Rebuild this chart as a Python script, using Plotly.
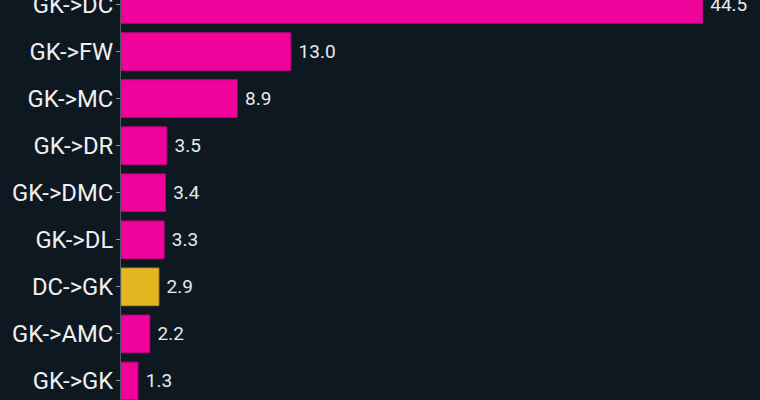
import plotly.graph_objects as go

# pass types and their values (top to bottom)
categories = ["GK->DC", "GK->FW", "GK->MC", "GK->DR", "GK->DMC",
              "GK->DL", "DC->GK", "GK->AMC", "GK->GK"]
values = [44.5, 13.0, 8.9, 3.5, 3.4, 3.3, 2.9, 2.2, 1.3]

pink = "#f0039a"
gold = "#e4b621"
colors = [gold if c == "DC->GK" else pink for c in categories]
edges = ["#b8901a" if c == "DC->GK" else "#c0027c" for c in categories]

fig = go.Figure()
fig.add_trace(go.Bar(
    x=values,
    y=categories,
    orientation="h",
    marker=dict(color=colors, line=dict(color=edges, width=1)),
    texttemplate="\u00a0%{x:.1f}",
    textposition="outside",
    textfont=dict(color="#e8e8e8", size=19, family="Roboto"),
    cliponaxis=False,
    hoverinfo="skip",
))

fig.update_layout(
    width=760,
    height=400,
    margin=dict(l=121, r=0, t=0, b=0),
    paper_bgcolor="#0e1821",
    plot_bgcolor="#0e1821",
    bargap=0.2,
    showlegend=False,
    font=dict(family="Roboto", color="#f0f0f0"),
)
fig.update_xaxes(range=[0, 48.9], visible=False, automargin=False)
fig.update_yaxes(
    range=[8.404, -0.0956],
    automargin=False,
    showline=True,
    linecolor="#4f5b66",
    linewidth=1,
    ticks="outside",
    ticklen=4,
    tickcolor="#8a939b",
    ticklabelstandoff=-2,
    tickfont=dict(size=23.8, color="#f0f0f0", family="Roboto"),
    showgrid=False,
    zeroline=False,
)

fig.write_html("out.html",
               config={"displayModeBar": False},
               post_script="document.body.style.margin='0';"
                           "document.body.style.overflow='hidden';")
